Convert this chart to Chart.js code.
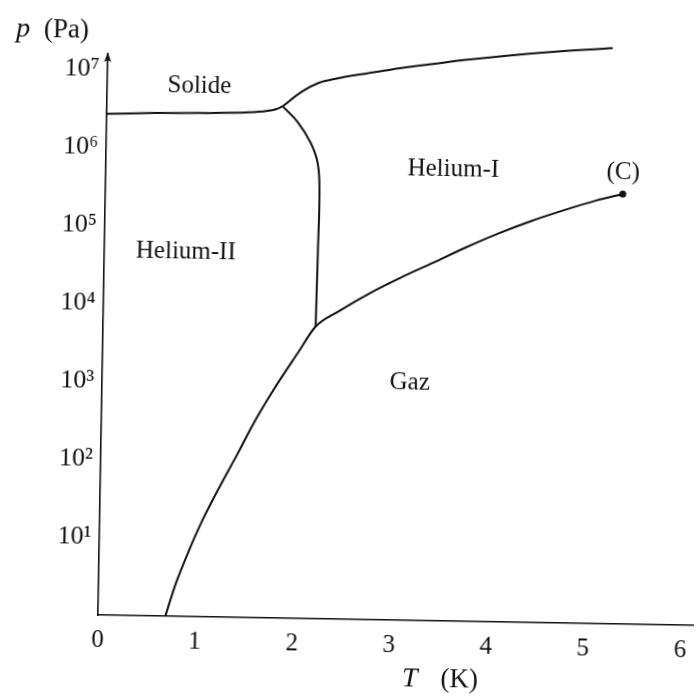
<!DOCTYPE html>
<html>
<head>
<meta charset="utf-8">
<script src="https://cdn.jsdelivr.net/npm/chart.js@4.4.1/dist/chart.umd.min.js"></script>
<style>
  html, body { margin: 0; padding: 0; background: #fff; overflow: hidden; }
  #wrap { width: 697px; height: 699px; transform-origin: 98px 615px; transform: rotate(1deg); }
</style>
</head>
<body>
<div id="wrap"><canvas id="phase" width="697" height="699"></canvas></div>
<script>
// Diagramme de phase de l'helium : T en K, p en Pa (echelle log)

// courbe de fusion, cote Helium-II
const meltLowT = [0, 0.5, 0.95, 1.46, 1.64, 1.74, 1.81];
const meltLowP = [2.66e6, 2.79e6, 2.85e6, 2.99e6, 3.13e6, 3.31e6, 3.63e6];

// courbe de fusion, cote Helium-I
const meltHighT = [1.81, 2.01, 2.18, 2.35, 2.69, 3.03, 3.37, 3.71, 4.50, 5.20];
const meltHighP = [3.63e6, 5.69e6, 7.41e6, 8.41e6, 1.01e7, 1.20e7, 1.38e7, 1.58e7, 2.04e7, 2.40e7];

// ligne lambda
const lambdaT = [1.81, 1.97, 2.105, 2.18, 2.205, 2.20, 2.19];
const lambdaP = [3.63e6, 2.29e6, 1.26e6, 7.08e5, 3.16e5, 5.37e4, 5.56e3];

// courbe de vaporisation jusqu'au point critique
const vapT = [0.694, 0.785, 0.915, 1.06, 1.23, 1.41, 1.59, 1.79, 2.01, 2.19,
              2.43, 2.75, 3.05, 3.39, 3.72, 4.06, 4.40, 4.75, 5.05, 5.33];
const vapP = [1, 2.4, 6.5, 17.4, 46.8, 126, 347, 933, 2510, 5560,
              8910, 15500, 24300, 38900, 61700, 95500, 141000, 200000, 263000, 324000];

const critT = 5.33;
const critP = 324000;

// noms des domaines
const regionNames = ['Solide', 'Helium-II', 'Helium-I', 'Gaz', '(C)'];
const regionT = [0.95, 0.84, 3.58, 3.17, 5.33];
const regionP = [6.3e6, 4.7e4, 6.2e5, 1.1e3, 6.2e5];

const tTicks = [0, 1, 2, 3, 4, 5, 6];
const pTicks = [1e1, 1e2, 1e3, 1e4, 1e5, 1e6, 1e7];

const ink = '#111';
const serif = '"Liberation Serif", "DejaVu Serif", serif';
const SUP = '⁰¹²³⁴⁵⁶⁷⁸⁹';
const sup = n => String(n).split('').map(d => SUP[+d]).join('');

const toXY = (xs, ys) => xs.map((t, i) => ({ x: t, y: ys[i] }));

const curve = (data, smooth) => ({
  data,
  showLine: true,
  borderColor: ink,
  borderWidth: 2,
  pointRadius: 0,
  cubicInterpolationMode: smooth,
  tension: 0.4,
  fill: false,
  clip: false
});

const phaseText = {
  id: 'phaseText',
  afterDatasetsDraw(chart) {
    const { ctx, chartArea, scales: { x, y } } = chart;
    ctx.save();
    ctx.fillStyle = ink;

    // noms des phases
    ctx.font = '25px ' + serif;
    ctx.textAlign = 'center';
    ctx.textBaseline = 'middle';
    regionNames.forEach((name, i) => {
      ctx.fillText(name, x.getPixelForValue(regionT[i]), y.getPixelForValue(regionP[i]));
    });

    // fleche en haut de l'axe p
    const ax = chartArea.left, top = chartArea.top;
    ctx.beginPath();
    ctx.moveTo(ax, top - 2);
    ctx.lineTo(ax - 3.5, top + 8);
    ctx.lineTo(ax, top + 6);
    ctx.lineTo(ax + 3.5, top + 8);
    ctx.closePath();
    ctx.fill();

    // titres des axes
    ctx.textAlign = 'left';
    ctx.font = 'italic 28px ' + serif;
    ctx.fillText('p', 6, 31);
    const pw = ctx.measureText('p ').width;
    ctx.font = '27px ' + serif;
    ctx.fillText(' (Pa)', 6 + pw, 31);

    ctx.font = 'italic 28px ' + serif;
    ctx.fillText('T', 403, 674);
    ctx.font = '27px ' + serif;
    ctx.textAlign = 'right';
    ctx.fillText('(K)', 479, 674);

    ctx.restore();
  }
};

new Chart(document.getElementById('phase'), {
  type: 'scatter',
  data: {
    datasets: [
      curve(toXY(meltLowT, meltLowP), 'monotone'),
      curve(toXY(meltHighT, meltHighP), 'monotone'),
      curve(toXY(lambdaT, lambdaP), 'default'),
      curve(toXY(vapT, vapP), 'monotone'),
      {
        data: [{ x: critT, y: critP }],
        pointRadius: 3.5,
        backgroundColor: ink,
        borderWidth: 0,
        clip: false
      }
    ]
  },
  options: {
    responsive: false,
    animation: false,
    events: [],
    layout: { padding: { top: 54, right: 1, left: 0, bottom: 0 } },
    plugins: {
      legend: { display: false },
      tooltip: { enabled: false }
    },
    scales: {
      x: {
        type: 'linear',
        min: 0,
        max: 6.13,
        afterBuildTicks: s => { s.ticks = tTicks.map(v => ({ value: v })); },
        afterFit: s => { s.height = 84; },
        ticks: {
          autoSkip: false,
          maxRotation: 0,
          padding: 10,
          color: ink,
          font: { family: serif, size: 25 },
          callback: v => String(v)
        },
        grid: { display: false, drawTicks: false },
        border: { display: true, color: ink, width: 1.6 }
      },
      y: {
        type: 'logarithmic',
        min: 1,
        max: Math.pow(10, 7.19),
        afterBuildTicks: s => { s.ticks = pTicks.map(v => ({ value: v })); },
        afterFit: s => { s.width = 98; },
        ticks: {
          autoSkip: false,
          padding: 8,
          color: ink,
          font: { family: serif, size: 26 },
          callback: v => '10' + sup(Math.round(Math.log10(v)))
        },
        grid: { display: false, drawTicks: false },
        border: { display: true, color: ink, width: 1.6 }
      }
    }
  },
  plugins: [phaseText]
});
</script>
</body>
</html>
